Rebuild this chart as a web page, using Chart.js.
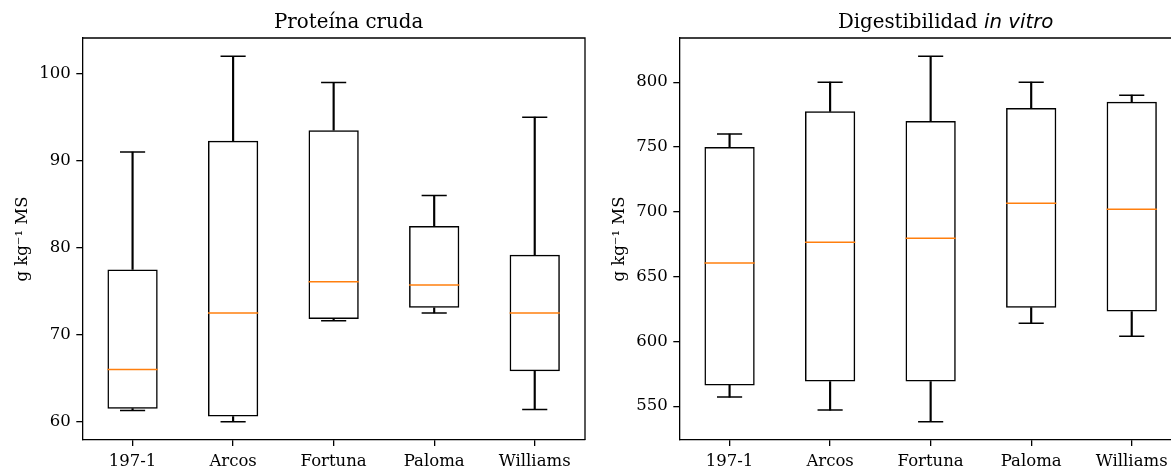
<!DOCTYPE html>
<html>
<head>
<meta charset="utf-8">
<script src="https://cdn.jsdelivr.net/npm/chart.js@4.4.1/dist/chart.umd.min.js"></script>
<style>
  html, body { margin: 0; padding: 0; background: #fff; overflow: hidden; }
  #wrap { position: relative; width: 1171px; height: 467px; overflow: hidden; }
  canvas { position: absolute; top: 0; }
  #c1 { left: 0; }
  #c2 { left: 597px; }
</style>
</head>
<body>
<div id="wrap">
  <canvas id="c1" width="600" height="467"></canvas>
  <canvas id="c2" width="600" height="467"></canvas>
</div>
<script>
const varieties = ["197-1", "Arcos", "Fortuna", "Paloma", "Williams"];

// Proteína cruda (g kg-1 MS)
const protLow    = [61.3, 60.0, 71.6, 72.5, 61.4];
const protQ1     = [61.5, 60.6, 71.8, 73.1, 65.8];
const protMedian = [66.0, 72.5, 76.1, 75.7, 72.5];
const protQ3     = [77.5, 92.3, 93.5, 82.5, 79.2];
const protHigh   = [91.0, 102.0, 99.0, 86.0, 95.0];
const protTicks  = [60, 70, 80, 90, 100];

// Digestibilidad in vitro (g kg-1 MS)
const digLow    = [557, 547, 538, 614, 604];
const digQ1     = [566, 569, 569, 626, 623];
const digMedian = [660.5, 676.5, 679.5, 706.5, 702];
const digQ3     = [750, 777.5, 770, 780, 785];
const digHigh   = [760, 800, 820, 800, 790];
const digTicks  = [550, 600, 650, 700, 750, 800];

const yLabel = "g kg\u207B\u00B9 MS";
const SERIF = "'DejaVu Serif', serif";
const TICK_SIZE = 16.5;
const TITLE_SIZE = 19.8;
const LW = 1.5;

// width of one category slot, in px, taken from the chart area
const slot = c => {
    const a = c.chart.chartArea;
    return a ? (a.right - a.left) / varieties.length : 100;
};

function boxDatasets(low, q1, med, q3, high) {
    const whisker = { type: "bar", grouped: false, barThickness: LW, backgroundColor: "#000", borderWidth: 0, order: 3 };
    const cap = {
        type: "line", showLine: false, pointStyle: "line",
        pointRadius: c => slot(c) * 0.125,
        pointBorderColor: "#000", pointBorderWidth: LW, borderColor: "#000", order: 2
    };
    return [
        { ...whisker, data: low.map((v, i) => [v, q1[i]]) },
        { ...whisker, data: q3.map((v, i) => [v, high[i]]) },
        {
            type: "bar", grouped: false, order: 2,
            data: q1.map((v, i) => [v, q3[i]]),
            backgroundColor: "rgba(0,0,0,0)", borderColor: "#000", borderWidth: LW,
            borderSkipped: false, barPercentage: 0.5, categoryPercentage: 1
        },
        { ...cap, data: low },
        { ...cap, data: high },
        {
            type: "line", showLine: false, pointStyle: "line", order: 1,
            data: med,
            pointRadius: c => slot(c) * 0.25,
            pointBorderColor: "#ff7f0e", pointBorderWidth: LW, borderColor: "#ff7f0e"
        }
    ];
}

// top/right frame + title, placed from the chart area
function panelPlugin(parts) {
    return {
        id: "panel",
        afterDraw(chart) {
            const { ctx, chartArea: a } = chart;
            ctx.save();
            ctx.strokeStyle = "#000";
            ctx.lineWidth = 1.3;
            ctx.beginPath();
            ctx.moveTo(a.left, a.top);
            ctx.lineTo(a.right, a.top);
            ctx.lineTo(a.right, a.bottom);
            ctx.stroke();

            ctx.fillStyle = "#000";
            ctx.textBaseline = "alphabetic";
            ctx.textAlign = "left";
            let total = 0;
            parts.forEach(p => { ctx.font = p.font; total += ctx.measureText(p.text).width; });
            let x = (a.left + a.right) / 2 + 15 - total / 2;
            parts.forEach(p => {
                ctx.font = p.font;
                ctx.fillText(p.text, x, 28.3);
                x += ctx.measureText(p.text).width;
            });
            ctx.restore();
        }
    };
}

function makeChart(id, low, q1, med, q3, high, ticks, parts) {
    const lo = Math.min(...low), hi = Math.max(...high);
    const pad = (hi - lo) * 0.05;
    return new Chart(document.getElementById(id), {
        type: "bar",
        data: { labels: varieties, datasets: boxDatasets(low, q1, med, q3, high) },
        options: {
            responsive: false,
            animation: false,
            events: [],
            devicePixelRatio: 1,
            layout: { autoPadding: false, padding: { left: 0, right: 15, top: 38, bottom: 0 } },
            plugins: { legend: { display: false }, tooltip: { enabled: false }, title: { display: false } },
            scales: {
                x: {
                    offset: true,
                    grid: { display: true, drawOnChartArea: false, drawTicks: true, tickLength: 6, color: "#000", lineWidth: 1.3, offset: false },
                    border: { display: true, color: "#000", width: 1.3 },
                    ticks: { color: "#000", font: { family: SERIF, size: TICK_SIZE }, padding: 5.5, maxRotation: 0 },
                    afterFit: s => { s.height = 27; s.paddingLeft = 0; s.paddingRight = 0; }
                },
                y: {
                    min: lo - pad,
                    max: hi + pad,
                    afterBuildTicks: s => { s.ticks = ticks.map(v => ({ value: v })); },
                    grid: { display: true, drawOnChartArea: false, drawTicks: true, tickLength: 6, color: "#000", lineWidth: 1.3 },
                    border: { display: true, color: "#000", width: 1.3 },
                    ticks: { color: "#000", font: { family: SERIF, size: TICK_SIZE }, padding: 5.5 },
                    title: { display: true, text: yLabel, color: "#000", font: { family: SERIF, size: TICK_SIZE }, padding: { top: 13, bottom: 0 } },
                    afterFit: s => { s.width = 82.3; s.paddingTop = 0; s.paddingBottom = 0; }
                }
            }
        },
        plugins: [panelPlugin(parts)]
    });
}

makeChart("c1", protLow, protQ1, protMedian, protQ3, protHigh, protTicks,
    [{ text: "Prote\u00EDna cruda", font: `${TITLE_SIZE}px ${SERIF}` }]);
makeChart("c2", digLow, digQ1, digMedian, digQ3, digHigh, digTicks,
    [{ text: "Digestibilidad ", font: `${TITLE_SIZE}px ${SERIF}` },
     { text: "in vitro", font: `italic ${TITLE_SIZE}px 'DejaVu Sans', sans-serif` }]);
</script>
</body>
</html>
